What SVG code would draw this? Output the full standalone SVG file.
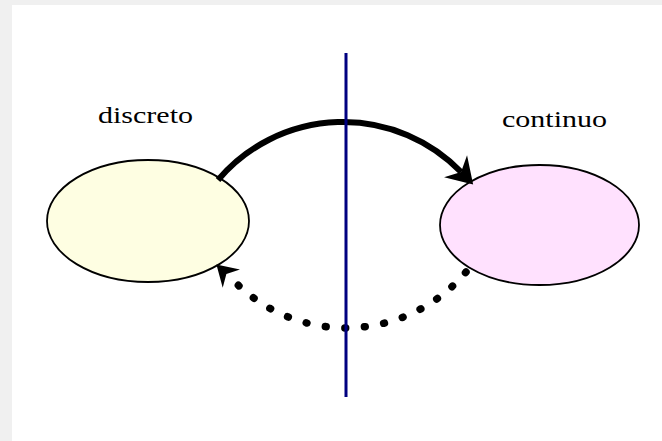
<svg xmlns="http://www.w3.org/2000/svg" width="662" height="441" viewBox="0 0 662 441">
  <style>
    .node ellipse { stroke: #000000; stroke-width: 1.8; }
    .label { font-family: "Liberation Serif", "Times New Roman", serif; font-size: 23px; fill: #000000; }
    .solid { fill: none; stroke: #000000; stroke-width: 6; }
    .dotted { fill: none; stroke: #000000; stroke-width: 7.5; stroke-linecap: round; stroke-dasharray: 0.8 18.76; }
    .divider { stroke: #000080; stroke-width: 3; }
  </style>
  <defs>
    <marker id="arrowSolid" markerUnits="userSpaceOnUse" markerWidth="40" markerHeight="40" refX="6" refY="0" orient="auto" viewBox="-5 -15 30 30">
      <path d="M19,0 L0,-12 L6,0 L0,12 Z" fill="#000000"/>
    </marker>
    <marker id="arrowDotted" markerUnits="userSpaceOnUse" markerWidth="40" markerHeight="40" refX="-8" refY="0" orient="auto" viewBox="-10 -15 35 30">
      <path d="M18,0 L0,-11 L6,0 L0,11 Z" fill="#000000"/>
    </marker>
  </defs>
  <rect x="0" y="0" width="662" height="441" fill="#f0f0f0"/>
  <rect x="12" y="5" width="650" height="436" fill="#ffffff"/>

  <g id="node-discreto" class="node">
    <ellipse cx="148" cy="221" rx="101" ry="61" fill="#fefee2"/>
    <text class="label" x="98" y="123" textLength="95" lengthAdjust="spacingAndGlyphs">discreto</text>
  </g>
  <g id="node-continuo" class="node">
    <ellipse cx="539.5" cy="225" rx="99.5" ry="60" fill="#ffe1fe"/>
    <text class="label" x="502" y="127" textLength="105" lengthAdjust="spacingAndGlyphs">continuo</text>
  </g>

  <g id="connectors">
    <path class="solid" d="M218,180 A164,164 0 0 1 461.1,172" marker-end="url(#arrowSolid)"/>
    <path class="dotted" d="M466,272 A157,157 0 0 1 238,285" marker-end="url(#arrowDotted)"/>
  </g>

  <g id="divider">
    <line class="divider" x1="346" y1="53" x2="346" y2="397"/>
  </g>
</svg>
